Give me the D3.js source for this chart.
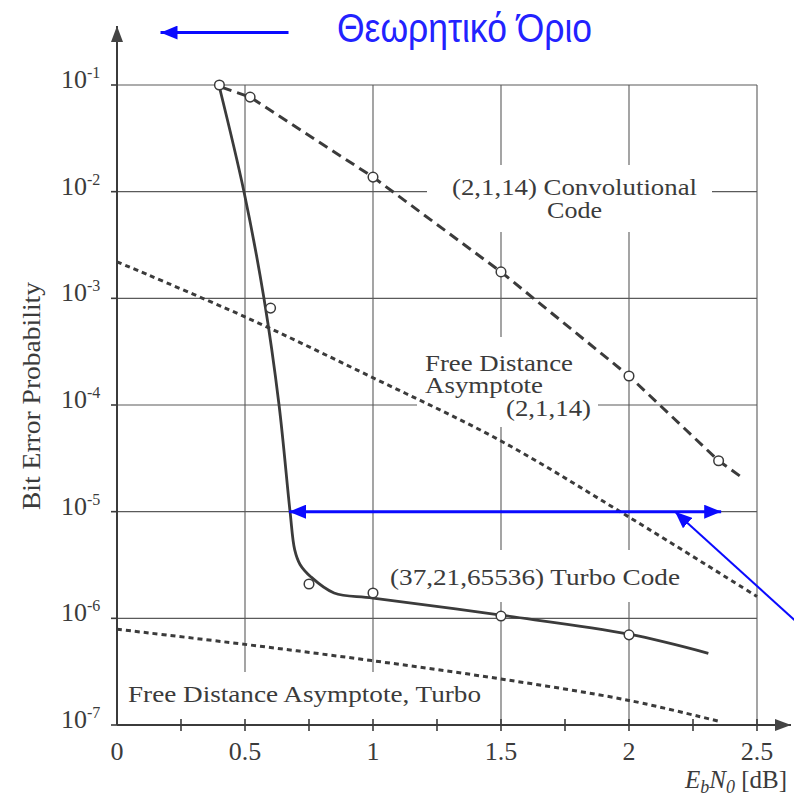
<!DOCTYPE html>
<html>
<head>
<meta charset="utf-8">
<script src="https://cdn.jsdelivr.net/npm/d3@7"></script>
<style>
  body { margin: 0; background: #fff; }
  svg { display: block; }
</style>
</head>
<body>
<svg id="chart" width="794" height="801"></svg>
<script>
// tick values
var xTicks = [0, 0.5, 1, 1.5, 2, 2.5]
var xMinorTicks = [0.25, 0.75, 1.25, 1.75, 2.25]
var yExponents = [-1, -2, -3, -4, -5, -6, -7]

// (2,1,14) convolutional code, dashed curve + measured points
var convCurve = [[0.41, 9.5e-2], [0.52, 7.7e-2], [1.0, 1.37e-2], [1.5, 1.77e-3], [2.0, 1.87e-4], [2.35, 3.0e-5], [2.44, 2.1e-5]]
var convPoints = [[0.52, 7.7e-2], [1.0, 1.37e-2], [1.5, 1.77e-3], [2.0, 1.87e-4], [2.35, 3.0e-5]]

// (37,21,65536) turbo code, solid curve + measured points
var turboCurve = [[0.398, 1e-1], [0.496, 1e-2], [0.574, 1e-3], [0.633, 1e-4], [0.676, 1e-5], [0.694, 4.4e-6], [0.715, 3.2e-6],
                  [0.758, 2.44e-6], [0.848, 1.73e-6], [1.0, 1.55e-6], [1.5, 1.07e-6], [2.0, 7.1e-7], [2.31, 4.7e-7]]
var turboPoints = [[0.4, 1e-1], [0.6, 8.1e-4], [0.75, 2.1e-6], [1.0, 1.73e-6], [1.5, 1.05e-6], [2.0, 7.0e-7]]

// free distance asymptotes (dotted)
var freeConv = [[0, 2.2e-3], [0.5, 6.7e-4], [1, 1.8e-4], [1.5, 4.6e-5], [2, 8.9e-6], [2.5, 1.6e-6]]
var freeTurbo = [[0, 7.9e-7], [0.5, 5.7e-7], [1, 4.0e-7], [1.5, 2.7e-7], [2, 1.7e-7], [2.36, 1.07e-7]]

// blue annotations (data coords)
var limitArrow = [[0.67, 0.31], [0.17, 0.31]]
var gapArrow = [[0.672, 1e-5], [2.36, 1e-5]]
var pointerArrow = [[2.66, 9.0e-7], [2.18, 1e-5]]

var ink = "#3b3b3b"
var blue = "#0a0aff"
var serif = "Liberation Serif, Times New Roman, serif"

var svg = d3.select("#chart")

var x = d3.scaleLinear().domain([0, 2.5]).range([117, 757])
var y = d3.scaleLog().domain([1e-7, 1e-1]).range([725, 85])

var defs = svg.append("defs")
function arrowMarker(id, color, len, half) {
    defs.append("marker")
        .attr("id", id)
        .attr("viewBox", "0 0 " + len + " " + (half * 2))
        .attr("refX", len).attr("refY", half)
        .attr("markerWidth", len).attr("markerHeight", half * 2)
        .attr("markerUnits", "userSpaceOnUse")
        .attr("orient", "auto-start-reverse")
        .append("path")
        .attr("d", "M0,0L" + len + "," + half + "L0," + (half * 2) + "Z")
        .attr("fill", color)
}
arrowMarker("blueHead", blue, 17, 7)
arrowMarker("inkHead", "#444", 16, 6)

// grid
var grid = svg.append("g").attr("stroke", "#5a5a5a").attr("stroke-width", 1.1)
grid.selectAll("line.h").data(yExponents).enter().append("line")
    .attr("x1", x(0)).attr("x2", x(2.5))
    .attr("y1", d => y(Math.pow(10, d))).attr("y2", d => y(Math.pow(10, d)))
grid.selectAll("line.v").data(xTicks.slice(1)).enter().append("line")
    .attr("x1", d => x(d)).attr("x2", d => x(d))
    .attr("y1", y(1e-1)).attr("y2", y(1e-7))

// white boxes that break the grid around labels
var boxes = [[427, 165, 285, 67], [417, 337, 181, 90], [384, 550, 306, 52], [121, 672, 364, 52]]
svg.selectAll("rect.box").data(boxes).enter().append("rect")
    .attr("x", d => d[0]).attr("y", d => d[1]).attr("width", d => d[2]).attr("height", d => d[3])
    .attr("fill", "#fff")

// axes
var axes = svg.append("g").attr("stroke", ink).attr("stroke-width", 2)
axes.append("line").attr("x1", x(0)).attr("x2", x(0)).attr("y1", y(1e-7)).attr("y2", 26)
    .attr("marker-end", "url(#inkHead)")
axes.append("line").attr("x1", x(0)).attr("x2", 791).attr("y1", y(1e-7)).attr("y2", y(1e-7))
    .attr("marker-end", "url(#inkHead)")
axes.selectAll("line.xt").data(xTicks.slice(1).concat(xMinorTicks)).enter().append("line")
    .attr("stroke-width", 1.6)
    .attr("x1", d => x(d)).attr("x2", d => x(d))
    .attr("y1", y(1e-7) - 6).attr("y2", y(1e-7) + 6)
axes.selectAll("line.yt").data(yExponents).enter().append("line")
    .attr("stroke-width", 1.6)
    .attr("x1", x(0) - 6).attr("x2", x(0))
    .attr("y1", d => y(Math.pow(10, d))).attr("y2", d => y(Math.pow(10, d)))

// tick labels
svg.selectAll("text.xl").data(xTicks).enter().append("text")
    .attr("x", d => x(d)).attr("y", 760)
    .attr("text-anchor", "middle")
    .attr("font-family", serif).attr("font-size", 26).attr("fill", ink)
    .text(d => d)
var yl = svg.selectAll("text.yl").data(yExponents).enter().append("text")
    .attr("x", 61).attr("y", d => y(Math.pow(10, d)) + 3)
    .attr("font-family", serif).attr("font-size", 26).attr("fill", ink)
yl.append("tspan").text("10")
yl.append("tspan").attr("dy", -10).attr("font-size", 16).text(d => d)

// axis titles
svg.append("text")
    .attr("transform", "translate(40,396) rotate(-90)")
    .attr("text-anchor", "middle")
    .attr("font-family", serif).attr("font-size", 25).attr("fill", ink)
    .attr("textLength", 228).attr("lengthAdjust", "spacingAndGlyphs")
    .text("Bit Error Probability")
var xt = svg.append("text").attr("x", 685).attr("y", 788)
    .attr("font-family", serif).attr("font-size", 25).attr("fill", ink)
xt.append("tspan").attr("font-style", "italic").text("E")
xt.append("tspan").attr("font-style", "italic").attr("font-size", 18).attr("dy", 5).text("b")
xt.append("tspan").attr("font-style", "italic").attr("dy", -5).text("N")
xt.append("tspan").attr("font-style", "italic").attr("font-size", 18).attr("dy", 5).text("0")
xt.append("tspan").attr("dy", -5).text(" [dB]")

// curves
var smooth = d3.line().x(d => x(d[0])).y(d => y(d[1])).curve(d3.curveCatmullRom.alpha(0.5))
var straight = d3.line().x(d => x(d[0])).y(d => y(d[1]))
svg.append("path").datum(freeConv).attr("d", smooth)
    .attr("fill", "none").attr("stroke", ink).attr("stroke-width", 3).attr("stroke-dasharray", "5,4")
svg.append("path").datum(freeTurbo).attr("d", smooth)
    .attr("fill", "none").attr("stroke", ink).attr("stroke-width", 3).attr("stroke-dasharray", "5,4")
svg.append("path").datum(convCurve).attr("d", straight)
    .attr("fill", "none").attr("stroke", ink).attr("stroke-width", 3).attr("stroke-dasharray", "10,6")
svg.append("path").datum(turboCurve).attr("d", smooth)
    .attr("fill", "none").attr("stroke", ink).attr("stroke-width", 2.8)

svg.selectAll("circle.pt").data(convPoints.concat(turboPoints)).enter().append("circle")
    .attr("cx", d => x(d[0])).attr("cy", d => y(d[1])).attr("r", 4.8)
    .attr("fill", "#fff").attr("stroke", ink).attr("stroke-width", 1.5)

// curve labels: text, x, baseline, anchor, width
var labels = [
    ["(2,1,14) Convolutional", 452, 195, "start", 245],
    ["Code", 547, 218, "start", 55],
    ["Free Distance", 425, 371, "start", 148],
    ["Asymptote", 425, 393, "start", 118],
    ["(2,1,14)", 506, 416, "start", 85],
    ["(37,21,65536) Turbo Code", 390, 585, "start", 290],
    ["Free Distance Asymptote, Turbo", 128, 702, "start", 353]
]
svg.selectAll("text.lab").data(labels).enter().append("text")
    .attr("x", d => d[1]).attr("y", d => d[2]).attr("text-anchor", d => d[3])
    .attr("font-family", serif).attr("font-size", 24).attr("fill", ink)
    .attr("textLength", d => d[4]).attr("lengthAdjust", "spacingAndGlyphs")
    .text(d => d[0])

// blue annotations
svg.append("text").attr("x", 337).attr("y", 42)
    .attr("font-family", "Liberation Sans, Arial, sans-serif").attr("font-size", 40)
    .attr("textLength", 255).attr("lengthAdjust", "spacingAndGlyphs")
    .attr("fill", "#2222ff").text("Θεωρητικό Όριο")
svg.append("path").datum(limitArrow).attr("d", straight)
    .attr("stroke", blue).attr("stroke-width", 3).attr("fill", "none").attr("marker-end", "url(#blueHead)")
svg.append("path").datum(gapArrow).attr("d", straight)
    .attr("stroke", blue).attr("stroke-width", 3).attr("fill", "none")
    .attr("marker-start", "url(#blueHead)").attr("marker-end", "url(#blueHead)")
svg.append("path").datum(pointerArrow).attr("d", straight)
    .attr("stroke", blue).attr("stroke-width", 2).attr("fill", "none").attr("marker-end", "url(#blueHead)")
</script>
</body>
</html>
